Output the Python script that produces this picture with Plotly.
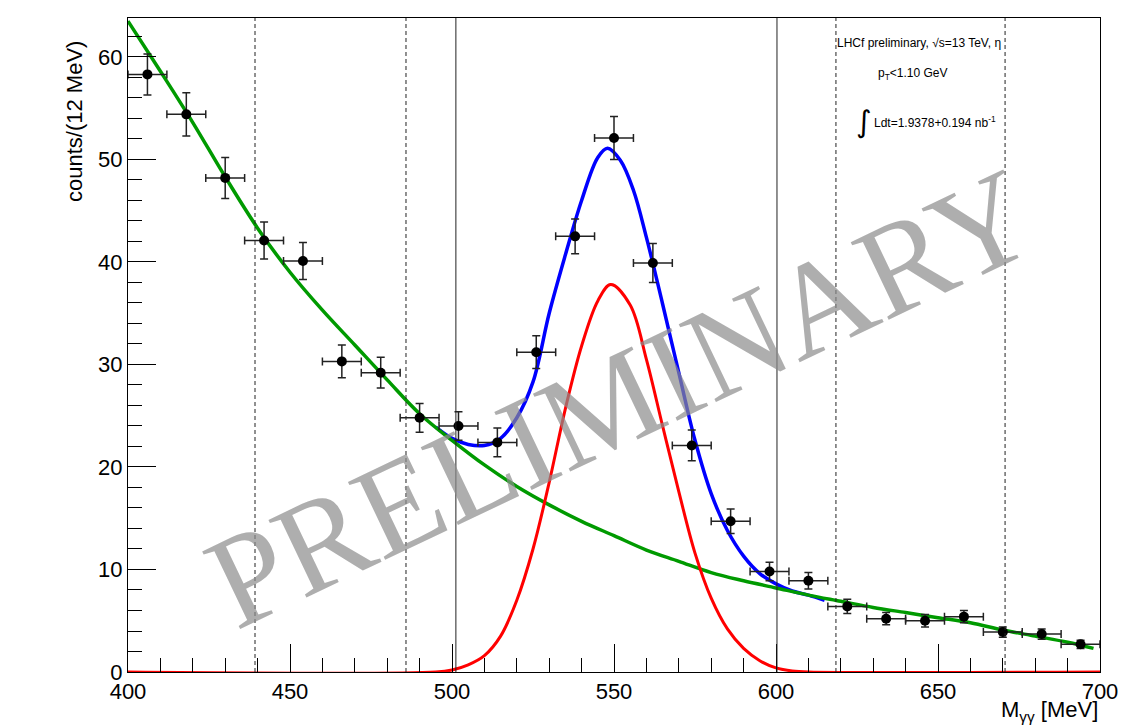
import plotly.graph_objects as go

# ---------------- data ----------------
bin_centers = [406, 418, 430, 442, 454, 466, 478, 490, 502, 514, 526, 538, 550,
               562, 574, 586, 598, 610, 622, 634, 646, 658, 670, 682, 694]
counts = [58.3, 54.4, 48.2, 42.1, 40.1, 30.3, 29.2, 24.8, 24.0, 22.4, 31.2, 42.5, 52.1,
          39.9, 22.1, 14.7, 9.8, 8.9, 6.4, 5.2, 5.0, 5.4, 3.9, 3.7, 2.7]
count_errors = [2.0, 2.1, 2.0, 1.8, 1.8, 1.6, 1.5, 1.4, 1.4, 1.4, 1.6, 1.7, 2.1,
                1.9, 1.5, 1.2, 0.9, 0.8, 0.7, 0.6, 0.6, 0.6, 0.5, 0.5, 0.4]
bin_half_width = 6

# background fit (green)
bkg_x = [400, 410, 420, 430, 440, 450, 460, 470, 480, 490, 500, 510, 520, 530, 540,
         550, 560, 570, 580, 590, 600, 610, 620, 630, 640, 650, 660, 670, 680, 690, 698]
bkg_y = [63.5, 58.6, 53.6, 48.3, 43.3, 39.0, 35.3, 31.9, 28.5, 25.2, 22.6, 20.2, 18.1, 16.3, 14.7,
         13.3, 11.9, 10.8, 9.7, 8.9, 8.2, 7.5, 6.9, 6.3, 5.8, 5.3, 4.8, 4.1, 3.5, 2.9, 2.3]

# signal fit (red)
sig_x = [400, 495, 500, 505, 510, 515, 520, 525, 530, 535, 540, 545, 549, 555, 560,
         565, 570, 575, 580, 585, 590, 595, 600, 605, 610, 700]
sig_y = [0, 0, 0.2, 0.7, 1.6, 3.5, 7.0, 12.0, 18.5, 25.7, 31.8, 36.2, 37.8, 35.8, 30.5,
         24.0, 17.6, 11.6, 7.2, 4.2, 2.3, 1.1, 0.4, 0.1, 0, 0]

# total fit (blue)
tot_x = [495, 500, 505, 510, 515, 520, 525, 530, 535, 540, 545, 548, 552, 556, 560,
         565, 570, 575, 580, 585, 590, 595, 600, 605, 610, 615]
tot_y = [23.9, 22.8, 22.2, 22.1, 22.8, 24.8, 28.3, 35.0, 40.7, 46.0, 50.2, 51.1, 49.9, 47.0, 42.4,
         35.9, 29.2, 22.6, 17.4, 13.8, 11.3, 9.6, 8.6, 7.9, 7.5, 7.0]

solid_lines_x = [501.2, 600.3]
dashed_lines_x = [439.2, 485.8, 618.5, 670.7]

x_range = [400, 700]
y_range = [0, 63.8]

# ---------------- figure ----------------
fig = go.Figure()

fig.add_trace(go.Scatter(x=tot_x, y=tot_y, mode="lines", line=dict(color="#0000ff", width=3.5, shape="spline"),
                         showlegend=False, hoverinfo="skip"))
fig.add_trace(go.Scatter(x=bkg_x, y=bkg_y, mode="lines", line=dict(color="#009a00", width=3.5, shape="spline"),
                         showlegend=False, hoverinfo="skip"))
fig.add_trace(go.Scatter(x=sig_x, y=sig_y, mode="lines", line=dict(color="#ff0000", width=3, shape="spline"),
                         showlegend=False, hoverinfo="skip"))

fig.add_trace(go.Scatter(
    x=bin_centers, y=counts, mode="markers",
    marker=dict(color="black", size=10, symbol="circle"),
    error_y=dict(type="data", array=count_errors, color="#222222", thickness=1.5, width=4),
    error_x=dict(type="constant", value=bin_half_width, color="#222222", thickness=1.5, width=4),
    showlegend=False))

shapes = []
for xv in solid_lines_x:
    shapes.append(dict(type="line", xref="x", yref="y", x0=xv, x1=xv, y0=y_range[0], y1=y_range[1],
                       line=dict(color="#222222", width=1)))
for xv in dashed_lines_x:
    shapes.append(dict(type="line", xref="x", yref="y", x0=xv, x1=xv, y0=y_range[0], y1=y_range[1],
                       line=dict(color="#222222", width=1, dash="4px,3px")))

# page has an 8px body margin; figure coordinates are page coordinates minus 8
OFF = 8
W, H = 1130 - OFF, 727 - OFF
L, T = 128 - OFF, 18 - OFF
R = W - (1100 - OFF)
B = H - (672 - OFF)
pw, ph = W - L - R, H - T - B


def px(xpage):
    return (xpage - OFF - L) / pw


def py(ypage):
    return (H - B - (ypage - OFF)) / ph


def ann(text, x, y, size, xanchor="center", yanchor="middle", family="Liberation Sans", angle=0, color="black"):
    return dict(text=text, x=px(x), y=py(y), xref="paper", yref="paper", showarrow=False,
                xanchor=xanchor, yanchor=yanchor, textangle=angle,
                font=dict(family=family, size=size, color=color))


annotations = [
    ann("PRELIMINARY", 620, 398, 132, family="Liberation Serif", angle=-25.5, color="rgba(140,140,140,0.7)"),
    ann("LHCf preliminary, √s=13 TeV, η", 919, 43, 12),
    ann("p<sub>T</sub>&lt;1.10 GeV", 913, 74, 12),
    ann("∫", 864, 121, 30, family="DejaVu Sans"),
    ann("Ldt=1.9378+0.194 nb<sup>-1</sup>", 872, 122, 12, xanchor="left"),
    ann("counts/(12 MeV)", 75, 122, 22, angle=-90),
    ann("M<sub>γγ</sub> [MeV]", 1100, 711, 22, xanchor="right"),
]

fig.update_layout(
    width=W, height=H,
    margin=dict(l=L, r=R, t=T, b=B, autoexpand=False),
    paper_bgcolor="white", plot_bgcolor="white",
    shapes=shapes, annotations=annotations,
    font=dict(family="Liberation Sans", size=22, color="black"),
)
fig.update_xaxes(range=x_range, showgrid=False, zeroline=False, showline=True, linecolor="black",
                 linewidth=1, mirror=True, ticks="inside", ticklen=28, tickcolor="black",
                 tickvals=[400, 450, 500, 550, 600, 650, 700],
                 minor=dict(dtick=10, tick0=400, ticks="inside", ticklen=14, tickcolor="black", showgrid=False),
                 tickfont=dict(size=22))
fig.update_yaxes(range=y_range, showgrid=False, zeroline=False, showline=True, linecolor="black",
                 linewidth=1, mirror=True, ticks="inside", ticklen=28, tickcolor="black",
                 tickvals=[0, 10, 20, 30, 40, 50, 60],
                 minor=dict(dtick=2, tick0=0, ticks="inside", ticklen=14, tickcolor="black", showgrid=False),
                 tickfont=dict(size=22))

fig.write_html("out.html")
